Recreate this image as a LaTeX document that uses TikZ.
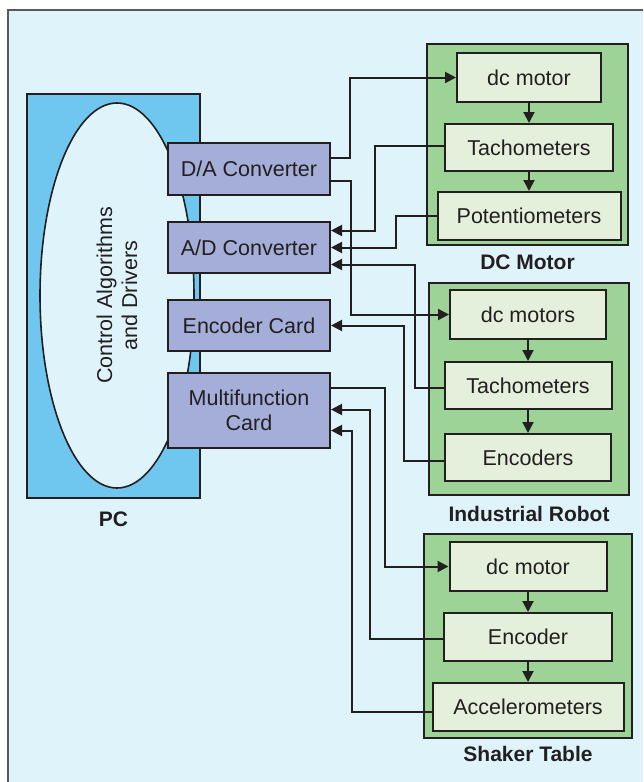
\documentclass[tikz,border=0pt]{standalone}
\usepackage{fontspec}
\setmainfont{Liberation Sans}
\usetikzlibrary{positioning,shapes.geometric,arrows.meta}
\definecolor{bgblue}{HTML}{DFF3FA}
\definecolor{pcblue}{HTML}{6FC7EF}
\definecolor{cardpurple}{HTML}{A4AED9}
\definecolor{grpgreen}{HTML}{9DD396}
\definecolor{partgreen}{HTML}{E4EFDC}
\definecolor{ink}{HTML}{231F20}

\begin{document}
\begin{tikzpicture}[
x=1pt, y=-1pt,
>={Triangle[length=11pt,width=11pt]},
every node/.style={text=ink, font=\fontsize{21.5}{25}\selectfont},
card/.style={rectangle, draw=ink, fill=cardpurple, line width=2pt, inner sep=0pt, minimum width=162pt, align=center},
part/.style={rectangle, draw=ink, fill=partgreen, line width=2pt, inner sep=0pt, minimum height=48pt},
group/.style={rectangle, draw=ink, fill=grpgreen, line width=2pt, inner sep=0pt},
grouplabel/.style={font=\fontsize{21}{25}\selectfont\bfseries, inner sep=0pt},
link/.style={draw=ink, line width=2pt}
]
\useasboundingbox (0,0) rectangle (643,782);
\fill[bgblue] (8,10) rectangle (643,782);
\draw[gray!70!black, line width=1.2pt] (8,782) -- (8,10) -- (643,10);

\node[rectangle, draw=ink, fill=pcblue, line width=2pt, minimum width=173pt, minimum height=404pt](pc) at (113.5,296){};
\node[ellipse, draw=ink, fill=bgblue, line width=1.6pt, rotate=90, minimum width=385pt, minimum height=154pt, align=center, inner sep=0pt](ctrl) at (117,295.5){Control Algorithms\\and Drivers};
\node[grouplabel](pclbl)[below=13pt of pc]{PC};

\node[card, minimum height=52pt](da) at (249,169){D/A Converter};
\node[card, minimum height=51pt](ad)[below=25pt of da]{A/D Converter};
\node[card, minimum height=51pt](enc)[below=25pt of ad]{Encoder Card};
\node[card, minimum height=75pt](mf)[below=20pt of enc]{Multifunction\\Card};

\node[group, minimum width=201pt, minimum height=201pt](dcgrp) at (527.5,144.5){};
\node[part, minimum width=144pt, minimum height=49pt](dcm_a) at (529,77.5){dc motor};
\node[part, minimum width=168pt, minimum height=47pt](tach_a)[below=20pt of dcm_a]{Tachometers};
\node[part, minimum width=183pt](pot_a)[below=19pt of tach_a]{Potentiometers};
\node[grouplabel](dclbl)[below=9pt of dcgrp]{DC Motor};

\node[group, minimum width=200pt, minimum height=212pt](robgrp) at (529,389){};
\node[part, minimum width=156pt, minimum height=49pt](dcm_b) at (528,314.5){dc motors};
\node[part, minimum width=167pt, minimum height=47pt](tach_b)[below=21pt of dcm_b]{Tachometers};
\node[part, minimum width=166pt, minimum height=47pt](enc_b)[below=23pt of tach_b]{Encoders};
\node[grouplabel](roblbl)[below=10pt of robgrp]{Industrial Robot};

\node[group, minimum width=208pt, minimum height=204pt](shkgrp) at (528,636){};
\node[part, minimum width=157pt, minimum height=49pt](dcm_c) at (528,566.5){dc motor};
\node[part, minimum width=168pt](enc_c)[below=20pt of dcm_c]{Encoder};
\node[part, minimum width=191pt](acc_c)[below=20pt of enc_c]{Accelerometers};
\node[grouplabel](shklbl)[below=7pt of shkgrp]{Shaker Table};

\draw[link,->] (dcm_a.south) -- (tach_a.north);
\draw[link,->] (tach_a.south) -- (pot_a.north);
\draw[link,->] (dcm_b.south) -- (tach_b.north);
\draw[link,->] (tach_b.south) -- (enc_b.north);
\draw[link,->] (dcm_c.south) -- (enc_c.north);
\draw[link,->] (enc_c.south) -- (acc_c.north);

\draw[link,->] ([yshift=11pt]da.east) -| ([xshift=-106pt]dcm_a.west) -- (dcm_a.west);
\draw[link,->] ([yshift=-12pt]da.east) -| ([xshift=-98pt]dcm_b.west) -- (dcm_b.west);
\draw[link,->] ([yshift=2pt]tach_a.west) -| ([xshift=44pt,yshift=17pt]ad.east) -- ([yshift=17pt]ad.east);
\draw[link,->] (pot_a.west) -| ([xshift=65pt]ad.east) -- (ad.east);
\draw[link,->] ([yshift=-2pt]tach_b.west) -| ([xshift=84pt,yshift=-17pt]ad.east) -- ([yshift=-17pt]ad.east);
\draw[link,->] ([yshift=-3pt]enc_b.west) -| ([xshift=73pt]enc.east) -- (enc.east);
\draw[link,->] ([yshift=23pt]mf.east) -| ([xshift=-64pt]dcm_c.west) -- (dcm_c.west);
\draw[link,->] ([yshift=-2pt]enc_c.west) -| ([xshift=39pt,yshift=1pt]mf.east) -- ([yshift=1pt]mf.east);
\draw[link,->] ([yshift=-5pt]acc_c.west) -| ([xshift=21pt,yshift=-20pt]mf.east) -- ([yshift=-20pt]mf.east);
\end{tikzpicture}
\end{document}
